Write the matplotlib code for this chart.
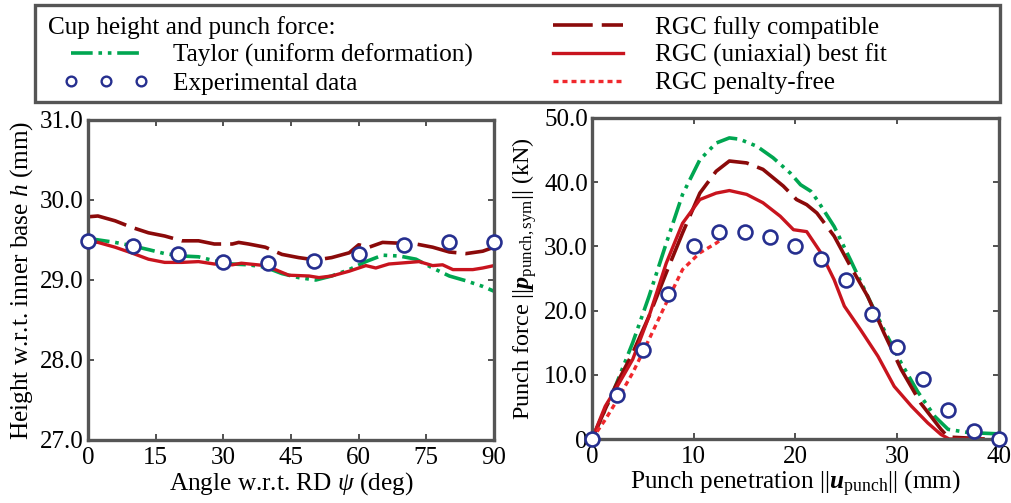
import numpy as np
import matplotlib.pyplot as plt
from matplotlib.lines import Line2D
from matplotlib.patches import Rectangle
from matplotlib.ticker import FuncFormatter, FormatStrFormatter

plt.rcParams['font.family'] = ['Liberation Serif', 'DejaVu Serif']
plt.rcParams['mathtext.fontset'] = 'custom'
plt.rcParams['mathtext.rm'] = 'Liberation Serif'
plt.rcParams['mathtext.it'] = 'Liberation Serif:italic'
plt.rcParams['mathtext.bf'] = 'Liberation Serif:italic:bold'

# cup height vs angle
psi_exp = [0, 10, 20, 30, 40, 50, 60, 70, 80, 90]
h_exp = [29.49, 29.43, 29.33, 29.23, 29.21, 29.24, 29.32, 29.44, 29.47, 29.48]

psi_fc = [0, 2.2, 6, 9.6, 13.4, 17, 20.8, 24.5, 28, 32, 33.4, 35.6, 39.3, 43, 46.7, 50.5,
          54, 57.9, 60, 62.3, 65.3, 69, 72.7, 76.4, 80.1, 83.8, 87.5, 90]
h_fc = [29.79, 29.80, 29.74, 29.66, 29.59, 29.55, 29.49, 29.49, 29.45, 29.45, 29.47, 29.45,
        29.41, 29.32, 29.28, 29.25, 29.28, 29.34, 29.44, 29.41, 29.47, 29.46, 29.45, 29.41,
        29.35, 29.33, 29.36, 29.41]

psi_bf = [0, 2.2, 6, 9.6, 13.4, 17, 20.8, 24.5, 28, 32, 34, 39.3, 41.5, 44.5, 49, 51.2,
          54, 57.9, 61.6, 63.8, 66.7, 71.2, 73.4, 76.4, 78.6, 80.9, 85.3, 87.5, 90]
h_bf = [29.48, 29.47, 29.41, 29.34, 29.26, 29.22, 29.22, 29.23, 29.20, 29.19, 29.21, 29.18,
        29.13, 29.06, 29.05, 29.03, 29.05, 29.11, 29.18, 29.15, 29.20, 29.22, 29.23, 29.18,
        29.19, 29.13, 29.13, 29.15, 29.18]

psi_ty = [0, 6, 9.6, 13.4, 17, 20.8, 24.5, 28, 32, 35.6, 39.3, 43, 46.7, 50.5, 54, 57.9,
          61.6, 65.3, 69, 72.7, 76.4, 80.1, 83.8, 87.5, 90]
h_ty = [29.52, 29.47, 29.43, 29.38, 29.33, 29.30, 29.29, 29.24, 29.20, 29.19, 29.16, 29.08,
        29.03, 29.00, 29.05, 29.13, 29.23, 29.31, 29.30, 29.26, 29.15, 29.05, 28.99, 28.92,
        28.86]

# punch force vs penetration
u_exp = [0, 2.5, 5, 7.5, 10, 12.5, 15, 17.5, 20, 22.5, 25, 27.5, 30, 32.5, 35, 37.5, 40]
f_exp = [0, 6.8, 13.9, 22.6, 30.0, 32.2, 32.2, 31.4, 30.1, 28.0, 24.8, 19.5, 14.4, 9.3,
         4.5, 1.2, 0]

u_ty = [0, 1.3, 2.3, 4, 5.6, 7.3, 8.9, 10.6, 12.2, 13.5, 14.5, 16.2, 17.8, 19.5, 20.5,
        21.5, 22.1, 23.8, 25.4, 27.1, 28.7, 30.4, 32, 33.7, 35, 37, 40]
f_ty = [0, 4.6, 8.2, 15.0, 22.2, 30.5, 38.1, 43.5, 46.1, 46.9, 46.7, 45.6, 43.8, 41.4,
        39.6, 38.6, 37.3, 33.1, 27.9, 22.2, 17.0, 11.8, 7.4, 3.5, 1.5, 1.0, 0.8]

u_fc = [0, 2.3, 4, 5.6, 7.3, 8.9, 10.6, 12.2, 13.5, 15.2, 16.8, 18.8, 20.1, 21.1, 22.1,
        23.8, 25.4, 27.1, 28.7, 30.4, 32.3, 34.3, 35, 37, 38.6]
f_fc = [0, 8.2, 13.4, 19.1, 25.9, 32.1, 38.3, 41.7, 43.3, 43.0, 42.0, 39.4, 37.3, 36.5,
        35.2, 31.6, 26.9, 22.2, 16.5, 10.8, 5.6, 1.5, 0.3, 0.15, 0]

u_bf = [0, 1.3, 2.3, 4, 5.6, 7.3, 8.9, 10.6, 12.2, 13.5, 15.2, 16.8, 18.5, 19.8, 21.1,
        22.5, 23.8, 24.8, 26.4, 28.1, 29.7, 31.4, 33, 34.3, 35.1, 38.3]
f_bf = [0, 5.1, 7.7, 12.4, 19.1, 27.4, 33.6, 37.3, 38.3, 38.7, 38.1, 36.8, 34.7, 32.6,
        32.3, 29.0, 24.8, 20.7, 17.0, 12.9, 8.2, 5.1, 2.5, 0.7, 0, 0]

u_pf = [0, 1.3, 2.3, 4, 5.6, 7.3, 8.9, 10.6, 12.2, 12.9]
f_pf = [0, 3.0, 5.6, 10.3, 15.5, 21.2, 26.4, 29.0, 30.5, 31.3]

c_ty = '#00a651'
c_fc = '#8b0a0a'
c_bf = '#c8141e'
c_pf = '#f0282d'
c_exp = '#262f8f'
frame = '#555555'
fs = 18.2

st_ty = dict(color=c_ty, lw=2.6, ls=(0, (6, 1.6, 1, 1.6, 1, 1.6)))
st_fc = dict(color=c_fc, lw=2.6, ls=(0, (11, 2.5)))
st_bf = dict(color=c_bf, lw=2.4, ls='-')
st_pf = dict(color=c_pf, lw=2.4, ls=(0, (1.5, 1.2)))
st_exp = dict(ls='none', marker='o', ms=10, mfc='white', mec=c_exp, mew=1.9)

fig = plt.figure(figsize=(10.12, 5.03), dpi=100)
ax1 = fig.add_axes([88 / 1012, 1 - 440 / 503, 406 / 1012, 320 / 503])
ax2 = fig.add_axes([592 / 1012, 1 - 439 / 503, 407 / 1012, 321 / 503])

ax1.plot(psi_ty, h_ty, **st_ty)
ax1.plot(psi_fc, h_fc, **st_fc)
ax1.plot(psi_bf, h_bf, **st_bf)
ax1.plot(psi_exp, h_exp, clip_on=False, zorder=5, **st_exp)
ax1.set_xlim(0, 90)
ax1.set_ylim(27, 31)
ax1.set_xticks([0, 15, 30, 45, 60, 75, 90])
ax1.set_yticks([27, 28, 29, 30, 31])
ax1.yaxis.set_major_formatter(FormatStrFormatter('%.1f'))
ax1.set_xlabel(r'Angle w.r.t. RD $\mathit{\psi}$ (deg)', fontsize=fs, labelpad=1)
ax1.set_ylabel(r'Height w.r.t. inner base $\mathit{h}$ (mm)', fontsize=fs, labelpad=4)

ax2.plot(u_ty, f_ty, **st_ty)
ax2.plot(u_fc, f_fc, **st_fc)
ax2.plot(u_bf, f_bf, **st_bf)
ax2.plot(u_pf, f_pf, **st_pf)
ax2.plot(u_exp, f_exp, clip_on=False, zorder=5, **st_exp)
ax2.set_xlim(0, 40)
ax2.set_ylim(0, 50)
ax2.set_xticks([0, 10, 20, 30, 40])
ax2.set_yticks([0, 10, 20, 30, 40, 50])
ax2.yaxis.set_major_formatter(FuncFormatter(lambda v, p: '0' if v == 0 else f'{v:.1f}'))
ax2.set_xlabel(r'Punch penetration $||\mathbf{u}_{\mathrm{punch}}||$ (mm)', fontsize=fs,
               labelpad=1)
ax2.set_ylabel(r'Punch force $||\mathbf{p}_{\mathrm{punch,sym}}||$ (kN)', fontsize=17.4,
               labelpad=4)

for ax in (ax1, ax2):
    for s in ax.spines.values():
        s.set_color(frame)
        s.set_linewidth(2.4)
    ax.tick_params(direction='in', length=4.5, width=1.2, color='#333333', labelsize=18,
                   top=True, right=True, pad=5)
    ax.tick_params(axis='y', pad=3)

# legend box with title and two columns
fig.patches.append(Rectangle((35 / 1012, 1 - 102 / 503), 965 / 1012, 97 / 503,
                             transform=fig.transFigure, fill=False, edgecolor=frame,
                             lw=2.4, zorder=1))
fig.text(48 / 1012, 1 - 28 / 503, 'Cup height and punch force:', fontsize=fs,
         va='center', ha='left')

leg_kw = dict(loc='upper left', fontsize=fs, frameon=False, handlelength=3.4,
              handletextpad=0.95, labelspacing=0.18, borderaxespad=0, borderpad=0,
              numpoints=3)
h1 = [Line2D([], [], **st_ty), Line2D([], [], **{**st_exp, 'ms': 7, 'mew': 1.7})]
fig.legend(h1, ['Taylor (uniform deformation)', 'Experimental data'],
           bbox_to_anchor=(63 / 1012, 1 - 44 / 503), markerscale=1.0, **leg_kw)
h2 = [Line2D([], [], **st_fc), Line2D([], [], **st_bf), Line2D([], [], **st_pf)]
fig.legend(h2, ['RGC fully compatible', 'RGC (uniaxial) best fit', 'RGC penalty-free'],
           bbox_to_anchor=(545 / 1012, 1 - 16 / 503), **leg_kw)

fig.savefig('out.png', dpi=100)
